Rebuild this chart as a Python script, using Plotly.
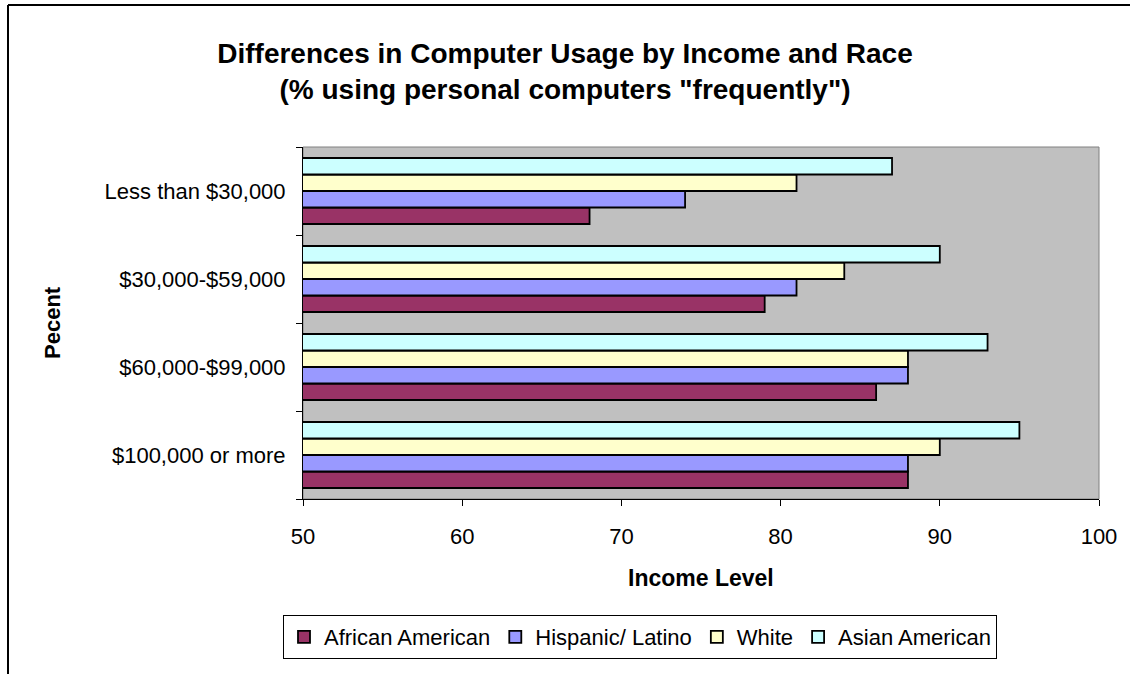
import plotly.graph_objects as go

categories = ["$100,000 or more", "$60,000-$99,000", "$30,000-$59,000", "Less than $30,000"]
african_american = [88, 86, 79, 68]
hispanic_latino = [88, 88, 81, 74]
white = [90, 88, 84, 81]
asian_american = [95, 93, 90, 87]

series = [
    ("African American", african_american, "#993366"),
    ("Hispanic/ Latino", hispanic_latino, "#9999FF"),
    ("White", white, "#FFFFCC"),
    ("Asian American", asian_american, "#CCFFFF"),
]

fig = go.Figure()
for name, vals, col in series:
    fig.add_trace(go.Bar(
        y=categories, x=vals, name=name, orientation="h",
        marker=dict(color=col, line=dict(color="black", width=1.8)),
    ))

L, T, R, B = 303, 147, 1099, 499
W, H = 1130, 674
pw, ph = R - L, B - T
FONT = "Arial, Liberation Sans, sans-serif"

fig.update_layout(
    width=W, height=H,
    margin=dict(l=L, r=W - R, t=T, b=H - B),
    paper_bgcolor="white",
    plot_bgcolor="#C0C0C0",
    barmode="group",
    bargap=0.25,
    bargroupgap=0,
    font=dict(family=FONT, size=22, color="black"),
    title=dict(
        text="<b>Differences in Computer Usage by Income and Race<br>(% using personal computers \"frequently\")</b>",
        x=0.5, xref="container", xanchor="center",
        y=1 - 63 / H, yref="container", yanchor="middle",
        font=dict(size=28, family=FONT),
    ),
    showlegend=True,
    legend=dict(
        orientation="h",
        x=(640 - L) / pw, xanchor="center",
        y=(B - 615) / ph, yanchor="top",
        bordercolor="black", borderwidth=1, bgcolor="white",
        font=dict(size=22),
        itemwidth=30,
        traceorder="normal",
    ),
    xaxis=dict(
        range=[50, 100],
        tickvals=[50, 60, 70, 80, 90, 100],
        ticks="outside", ticklen=6, tickcolor="black",
        showline=True, linecolor="black", linewidth=1,
        showgrid=False, zeroline=False,
        ticklabelstandoff=12,
        tickfont=dict(size=22),
    ),
    yaxis=dict(
        ticks="outside", ticklen=6, tickcolor="black",
        tickson="boundaries",
        showline=True, linecolor="black", linewidth=1,
        showgrid=False, zeroline=False,
        ticklabelstandoff=12,
        tickfont=dict(size=22),
    ),
    shapes=[
        dict(type="rect", xref="paper", yref="paper", x0=0, x1=1, y0=0, y1=1,
             line=dict(color="#808080", width=1), layer="below"),
        dict(type="line", xref="paper", yref="paper",
             x0=(8 - L) / pw, x1=(W + 10 - L) / pw,
             y0=1 + (T - 5) / ph, y1=1 + (T - 5) / ph,
             line=dict(color="black", width=2)),
        dict(type="line", xref="paper", yref="paper",
             x0=(8 - L) / pw, x1=(8 - L) / pw,
             y0=1 + (T - 5) / ph, y1=(B - H - 10) / ph,
             line=dict(color="black", width=2)),
    ],
    annotations=[
        dict(text="<b>Income Level</b>", xref="paper", yref="paper",
             x=0.5, y=(B - 578) / ph, xanchor="center", yanchor="middle",
             showarrow=False, font=dict(size=23)),
        dict(text="<b>Pecent</b>", xref="paper", yref="paper",
             x=(52 - L) / pw, y=0.5, xanchor="center", yanchor="middle",
             textangle=-90, showarrow=False, font=dict(size=22)),
    ],
)

fig.write_html("out.html")
